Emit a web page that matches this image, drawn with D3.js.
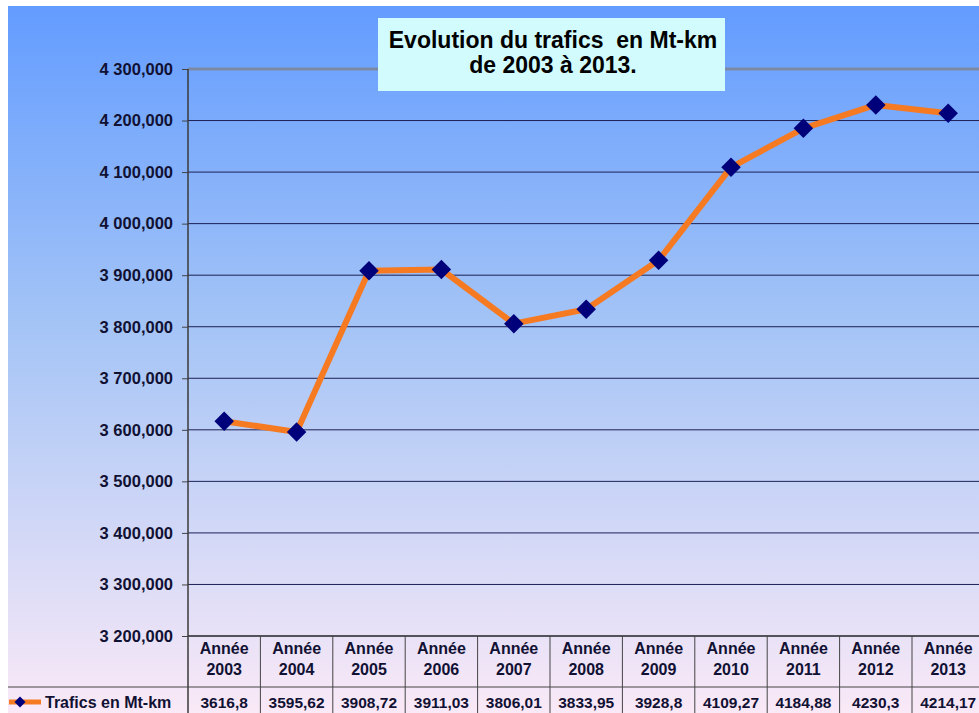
<!DOCTYPE html>
<html>
<head>
<meta charset="utf-8">
<script src="https://cdn.jsdelivr.net/npm/d3@7"></script>
<style>
  html, body { margin: 0; padding: 0; background: #fff; }
  svg { display: block; }
</style>
</head>
<body>
<script>
  // Chart data
  const years = ['2003', '2004', '2005', '2006', '2007', '2008', '2009', '2010', '2011', '2012', '2013']
  const trafics = [3616.8, 3595.62, 3908.72, 3911.03, 3806.01, 3833.95, 3928.8, 4109.27, 4184.88, 4230.3, 4214.17]
  const trafficLabels = ['3616,8', '3595,62', '3908,72', '3911,03', '3806,01', '3833,95', '3928,8', '4109,27', '4184,88', '4230,3', '4214,17']
  const yTicks = [3200, 3300, 3400, 3500, 3600, 3700, 3800, 3900, 4000, 4100, 4200, 4300]
  const seriesName = 'Trafics en Mt-km'
  const titleLines = ['Evolution du trafics  en Mt-km', 'de 2003 à 2013.']

  const width = 979
  const height = 713

  const plotLeft = 188
  const plotTop = 69
  const plotBottom = 636
  const colWidth = 72.4
  const plotRight = plotLeft + colWidth * years.length

  const lineColor = '#f57a22'
  const markerColor = '#00007a'
  const textColor = '#111133'
  const font = '"Liberation Sans", Arial, sans-serif'

  // French-style number format: "4 300,000"
  const fr = d3.formatLocale({ decimal: ',', thousands: ' ', grouping: [3], currency: ['', ''] })
  const fmt = fr.format(',.3f')

  const svg = d3.select(document.body)
    .append('svg')
    .attr('width', width)
    .attr('height', height)
    .style('font-family', font)

  // Background gradient (blue at the top, pale pink at the bottom)
  const defs = svg.append('defs')
  const grad = defs.append('linearGradient')
    .attr('id', 'bg')
    .attr('x1', 0).attr('y1', 0).attr('x2', 0).attr('y2', 1)
  grad.append('stop').attr('offset', '0%').attr('stop-color', '#639cff')
  grad.append('stop').attr('offset', '45%').attr('stop-color', '#a4c4f6')
  grad.append('stop').attr('offset', '100%').attr('stop-color', '#fae9f7')

  svg.append('rect')
    .attr('x', 8).attr('y', 6)
    .attr('width', width - 8).attr('height', height - 6)
    .attr('fill', 'url(#bg)')

  const x = d3.scaleBand()
    .domain(years)
    .range([plotLeft, plotRight])

  const y = d3.scaleLinear()
    .domain([3200, 4300])
    .range([plotBottom, plotTop])

  // Gridlines
  svg.append('g')
    .selectAll('line')
    .data(yTicks)
    .enter()
    .append('line')
    .attr('x1', plotLeft)
    .attr('x2', width)
    .attr('y1', (d) => y(d))
    .attr('y2', (d) => y(d))
    .attr('stroke', (d) => (d === 4300 ? '#7d8aa6' : '#1c1f55'))
    .attr('stroke-width', (d) => (d === 4300 ? 3 : 1))

  // Y axis
  const yAxis = d3.axisLeft(y)
    .tickValues(yTicks)
    .tickFormat((d) => fmt(d))
    .tickSize(6)
    .tickPadding(9)

  const yAxisG = svg.append('g')
    .attr('transform', `translate(${plotLeft},0)`)
    .call(yAxis)
  yAxisG.select('.domain').remove()
  yAxisG.selectAll('.tick line').attr('stroke', '#444')
  yAxisG.selectAll('.tick text')
    .attr('fill', textColor)
    .style('font-size', '16.5px')
    .style('font-weight', 'bold')
    .style('font-family', font)

  svg.append('line')
    .attr('x1', plotLeft).attr('x2', plotLeft)
    .attr('y1', plotTop).attr('y2', height)
    .attr('stroke', '#3a3a3a')
    .attr('stroke-width', 1.5)

  // Data table under the plot
  const headerBottom = 687
  const table = svg.append('g')
    .style('font-size', '16px')
    .style('font-weight', 'bold')

  table.append('line')
    .attr('x1', plotLeft).attr('x2', width)
    .attr('y1', plotBottom).attr('y2', plotBottom)
    .attr('stroke', '#444').attr('stroke-width', 1.5)
  table.append('line')
    .attr('x1', 8).attr('x2', width)
    .attr('y1', headerBottom).attr('y2', headerBottom)
    .attr('stroke', '#444').attr('stroke-width', 1)

  table.selectAll('.col-border')
    .data(years)
    .enter()
    .append('line')
    .attr('class', 'col-border')
    .attr('x1', (d) => x(d) + x.bandwidth())
    .attr('x2', (d) => x(d) + x.bandwidth())
    .attr('y1', plotBottom)
    .attr('y2', height)
    .attr('stroke', '#444')
    .attr('stroke-width', 1)

  const header = table.selectAll('.header')
    .data(years)
    .enter()
    .append('text')
    .attr('class', 'header')
    .attr('text-anchor', 'middle')
    .attr('fill', textColor)
  header.append('tspan')
    .attr('x', (d) => x(d) + x.bandwidth() / 2)
    .attr('y', 654)
    .text('Année')
  header.append('tspan')
    .attr('x', (d) => x(d) + x.bandwidth() / 2)
    .attr('y', 675)
    .text((d) => d)

  table.selectAll('.value')
    .data(years)
    .enter()
    .append('text')
    .attr('class', 'value')
    .attr('x', (d) => x(d) + x.bandwidth() / 2)
    .attr('y', 708)
    .attr('text-anchor', 'middle')
    .attr('fill', textColor)
    .style('font-size', '15.5px')
    .text((d, i) => trafficLabels[i])

  // Legend key in the table row
  table.append('line')
    .attr('x1', 9).attr('x2', 41)
    .attr('y1', 702).attr('y2', 702)
    .attr('stroke', lineColor).attr('stroke-width', 5)
  table.append('path')
    .attr('d', d3.symbol().type(d3.symbolSquare).size(60)())
    .attr('transform', 'translate(20,702) rotate(45)')
    .attr('fill', markerColor)
  table.append('text')
    .attr('x', 45).attr('y', 708)
    .attr('fill', textColor)
    .text(seriesName)

  // Series line
  const points = years.map((yr, i) => ({ year: yr, value: trafics[i] }))
  const line = d3.line()
    .x((d) => x(d.year) + x.bandwidth() / 2)
    .y((d) => y(d.value))

  svg.append('path')
    .datum(points)
    .attr('d', line)
    .attr('fill', 'none')
    .attr('stroke', lineColor)
    .attr('stroke-width', 6)
    .attr('stroke-linejoin', 'round')

  svg.append('g')
    .selectAll('path')
    .data(points)
    .enter()
    .append('path')
    .attr('d', d3.symbol().type(d3.symbolSquare).size(190)())
    .attr('transform', (d) => `translate(${x(d.year) + x.bandwidth() / 2},${y(d.value)}) rotate(45)`)
    .attr('fill', markerColor)

  // Title box
  const title = svg.append('g')
  title.append('rect')
    .attr('x', 378).attr('y', 18)
    .attr('width', 347).attr('height', 73)
    .attr('fill', '#d2fbfd')
  title.selectAll('text')
    .data(titleLines)
    .enter()
    .append('text')
    .attr('x', 553)
    .attr('y', (d, i) => 48 + i * 25)
    .attr('text-anchor', 'middle')
    .attr('fill', '#000')
    .style('font-size', '23px')
    .style('font-weight', 'bold')
    .style('white-space', 'pre')
    .text((d) => d)
</script>
</body>
</html>
